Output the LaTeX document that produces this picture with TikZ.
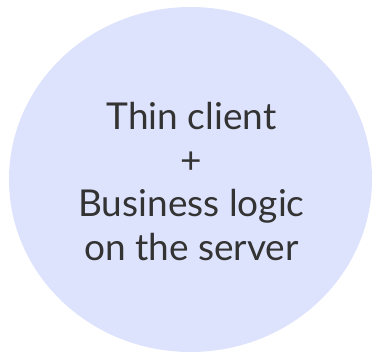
\documentclass[tikz,border=0pt]{standalone}
\usepackage{fontspec}
\setmainfont{Lato}
\usepackage{xcolor}
\usetikzlibrary{
    shapes.geometric,
    positioning
}
\definecolor{bubblefill}{RGB}{222,227,253}
\tikzset{
    bubble/.style={ellipse, fill=bubblefill, draw=none, inner sep=0pt,
        minimum width=363pt, minimum height=345pt,
        align=center, text=black!80,
        font=\fontsize{37}{43.5}\selectfont}
}

\begin{document}
\begin{tikzpicture}[x=1pt, y=-1pt]
                                \useasboundingbox (0, 0) rectangle (373, 353);
                                \node[bubble] (tc) at (190.5, 179.5) {};
                                \node[align=center, text=black!80, inner sep=0pt,
                                    font=\fontsize{37}{43.5}\selectfont]
                                    (txt) at (191.5, 181.5)
                                {Thin client\\+\\Business logic\\on the server};
                            \end{tikzpicture}
\end{document}
